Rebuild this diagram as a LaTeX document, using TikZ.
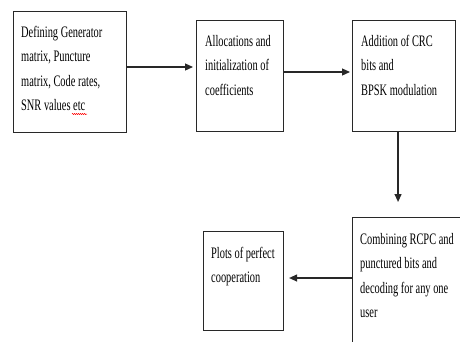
\documentclass[tikz,border=0pt]{standalone}
\usepackage{fontspec}
\setmainfont{Liberation Serif}
\usetikzlibrary{arrows.meta,positioning,calc,decorations.pathmorphing}
\definecolor{boxline}{RGB}{40,40,40}

% narrow, tall lettering as in the scanned chart
\newcommand{\squeezed}[1]{\scalebox{0.65}[1]{\begin{tabular}{@{}l@{}}#1\end{tabular}}}

\tikzset{
  stagebox/.style={draw=boxline,line width=1.1pt,anchor=north west,inner sep=0pt},
  stagetext/.style={anchor=north west,inner sep=0pt,font=\fontsize{16}{24.5}\selectfont},
  flow/.style={-{Triangle[length=8pt,width=7pt]},line width=1.2pt,draw=boxline}
}

\begin{document}
\begin{tikzpicture}[x=1pt,y=-1pt]
\useasboundingbox (0,0) rectangle (460,341);
\clip (0,0) rectangle (460,341);

% Boxes
\node[stagebox,minimum width=113pt,minimum height=121pt] (gen) at (13,11) {};
\node[stagebox,minimum width=87pt,minimum height=111pt] (alloc) at (196,20) {};
\node[stagebox,minimum width=103pt,minimum height=111pt] (crc) at (352,20) {};
\node[stagebox,minimum width=115pt,minimum height=135pt] (comb) at (352,217) {};
\node[stagebox,minimum width=80pt,minimum height=99pt] (plots) at (203,231) {};

% Texts
\node[stagetext] (gentxt) at ($(gen.north west)+(8,9)$)
  {\squeezed{Defining Generator\\matrix, Puncture\\matrix, Code rates,\\SNR values etc}};
\node[stagetext] (alloctxt) at ($(alloc.north west)+(9,9)$)
  {\squeezed{Allocations and\\initialization of\\coefficients}};
\node[stagetext] (crctxt) at ($(crc.north west)+(9,9)$)
  {\squeezed{Addition of CRC\\bits and\\BPSK modulation}};
\node[stagetext] (combtxt) at ($(comb.north west)+(8,10)$)
  {\squeezed{Combining RCPC and\\punctured bits and\\decoding for any one\\user}};
\node[stagetext] (plotstxt) at ($(plots.north west)+(8,10)$)
  {\squeezed{Plots of perfect\\cooperation}};

% spell-check squiggle under "etc"
\draw[red,line width=0.5pt,decorate,decoration={snake,amplitude=0.6pt,segment length=2pt}]
  (72,114) -- (87,114);

% Arrows
\coordinate (down) at ($(crc.south)+(-6,0)$);
\coordinate (back) at (352,278);
\draw[flow] (gen.east |- 0,67) -- ($(alloc.west |- 0,67)+(-3,0)$);
\draw[flow] (alloc.east |- 0,72) -- ($(crc.west |- 0,72)+(-2,0)$);
\draw[flow] (down) -- ($(down |- comb.north)+(0,-15)$);
\draw[flow] (back) -- ($(plots.east |- back)+(5,0)$);

\end{tikzpicture}
\end{document}
